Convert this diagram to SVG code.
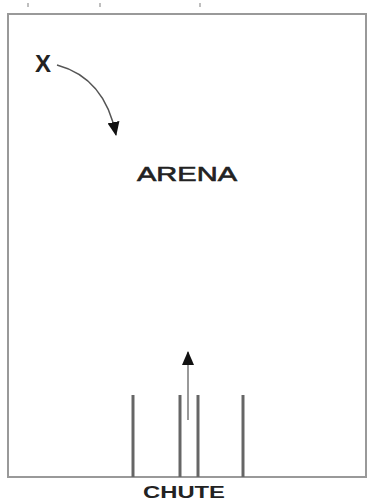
<svg xmlns="http://www.w3.org/2000/svg" width="370" height="501" viewBox="0 0 370 501">
<style>
.lbl{font-family:"Liberation Sans",Arial,sans-serif;fill:#222;}
.wall{stroke:#666;stroke-width:3;}
.tick{stroke:#aaa;stroke-width:1.5;}
</style>
<defs>
<marker id="ah" markerWidth="14" markerHeight="12" refX="13" refY="6" orient="auto" markerUnits="userSpaceOnUse" viewBox="0 0 14 12">
<path d="M0,0 L14,6 L0,12 Z" fill="#111"/>
</marker>
</defs>
<rect width="370" height="501" fill="#fff"/>
<g id="ticks">
<line class="tick" x1="28" y1="3" x2="28" y2="7"/>
<line class="tick" x1="100" y1="3" x2="100" y2="7"/>
<line class="tick" x1="200" y1="3" x2="200" y2="7"/>
</g>
<g id="arena">
<rect x="8" y="14" width="358" height="463" fill="none" stroke="#999" stroke-width="2"/>
<text class="lbl" x="137" y="181" font-size="21" stroke="#222" stroke-width="0.6" textLength="100" lengthAdjust="spacingAndGlyphs">ARENA</text>
</g>
<g id="x">
<text class="lbl" x="43" y="72" font-size="24" font-weight="bold" text-anchor="middle">X</text>
</g>
<g id="chute">
<line class="wall" x1="133" y1="395" x2="133" y2="477"/>
<line class="wall" x1="180" y1="395" x2="180" y2="477" stroke="#333"/>
<line class="wall" x1="198" y1="395" x2="198" y2="477"/>
<line class="wall" x1="243" y1="395" x2="243" y2="477"/>
<text class="lbl" x="184" y="498" font-size="17" font-weight="bold" text-anchor="middle" textLength="82" lengthAdjust="spacingAndGlyphs">CHUTE</text>
</g>
<g id="connectors">
<path d="M57,65 Q105,78 116,135" fill="none" stroke="#555" stroke-width="1.5" marker-end="url(#ah)"/>
<line x1="188" y1="420" x2="188" y2="352" stroke="#777" stroke-width="1.5" marker-end="url(#ah)"/>
</g>
</svg>
